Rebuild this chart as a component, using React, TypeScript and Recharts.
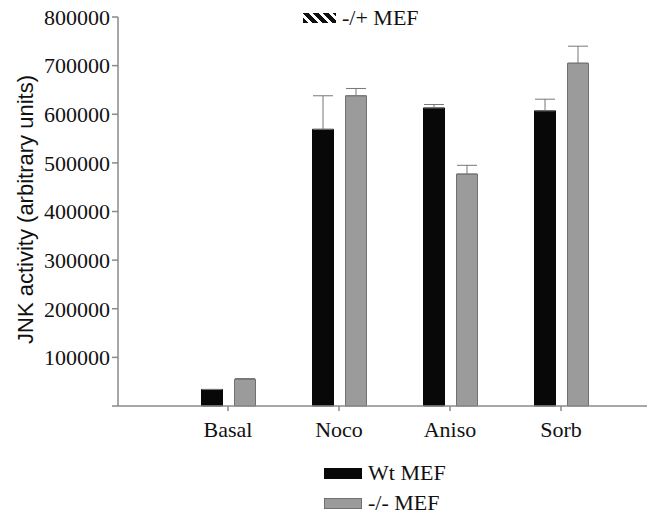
import { BarChart, Bar, XAxis, YAxis, ErrorBar, Legend } from 'recharts';

const categories = ['Basal', 'Noco', 'Aniso', 'Sorb'];
const wtValues = [34000, 569000, 613000, 607000];
const wtErrors = [0, 69000, 7000, 24000];
const koValues = [55000, 638000, 477000, 705000];
const koErrors = [1500, 15000, 18000, 35000];
const yTicks = [0, 100000, 200000, 300000, 400000, 500000, 600000, 700000, 800000];

const SERIF = '"Liberation Serif", "Times New Roman", serif';
const AXIS = '#8a8a8a';

const data = categories.map((name, i) => ({
  name,
  wt: wtValues[i],
  wtErr: [0, wtErrors[i]],
  ko: koValues[i],
  koErr: [0, koErrors[i]],
}));

function BottomLegend() {
  const rows = [
    { label: 'Wt MEF', fill: '#080808', stroke: '#080808' },
    { label: '-/- MEF', fill: '#9b9b9b', stroke: '#707070' },
  ];
  return (
    <div style={{ width: 647, height: 62, paddingTop: 2, boxSizing: 'border-box' }}>
      {rows.map((r) => (
        <div key={r.label} style={{ display: 'flex', alignItems: 'center', height: 30, paddingLeft: 316 }}>
          <span
            style={{
              display: 'inline-block',
              width: 36,
              height: 9,
              background: r.fill,
              border: `1px solid ${r.stroke}`,
              marginRight: 6,
            }}
          />
          <span style={{ fontFamily: SERIF, fontSize: 22, color: '#111', lineHeight: '30px' }}>{r.label}</span>
        </div>
      ))}
    </div>
  );
}

function YLabel({ viewBox }: any) {
  const cy = viewBox.y + viewBox.height / 2 - 2;
  const x = 25;
  return (
    <text
      x={x}
      y={cy}
      transform={`rotate(-90, ${x}, ${cy})`}
      textAnchor="middle"
      fontFamily='"Liberation Sans", Arial, sans-serif'
      fontSize={22}
      fill="#111"
    >
      JNK activity (arbitrary units)
    </text>
  );
}

export default function App() {
  return (
    <div style={{ position: 'relative', width: 647, height: 523, marginTop: -8 }}>
      <BarChart
        width={647}
        height={523}
        data={data}
        margin={{ top: 17, right: 0, bottom: 5, left: 0 }}
        barSize={21}
        barGap={12}
      >
        <XAxis
          dataKey="name"
          height={50}
          padding={{ left: 54.5, right: 38.5 }}
          stroke={AXIS}
          strokeWidth={1.5}
          tickSize={5}
          tickMargin={10}
          tick={{ fill: '#111', fontSize: 22, fontFamily: SERIF }}
        />
        <YAxis
          width={110}
          domain={[0, 800000]}
          ticks={yTicks}
          interval={0}
          stroke={AXIS}
          strokeWidth={1.5}
          tickSize={6}
          tickMargin={2}
          tickFormatter={(v: number) => (v === 0 ? '' : String(v))}
          tick={{ fill: '#111', fontSize: 22, fontFamily: SERIF }}
          label={<YLabel />}
        />
        <Legend verticalAlign="bottom" content={() => <BottomLegend />} />
        <Bar dataKey="wt" name="Wt MEF" fill="#080808" stroke="#080808" isAnimationActive={false}>
          <ErrorBar dataKey="wtErr" width={10} stroke="#777" strokeWidth={1} isAnimationActive={false} />
        </Bar>
        <Bar dataKey="ko" name="-/- MEF" fill="#9b9b9b" stroke="#707070" isAnimationActive={false}>
          <ErrorBar dataKey="koErr" width={10} stroke="#777" strokeWidth={1} isAnimationActive={false} />
        </Bar>
      </BarChart>
      <div style={{ position: 'absolute', left: 295, top: 8, height: 20, display: 'flex', alignItems: 'center' }}>
        <span
          style={{
            display: 'inline-block',
            width: 33,
            height: 10,
            marginRight: 6,
            background: 'repeating-linear-gradient(45deg, #111 0px, #111 4px, #fff 4px, #fff 7px)',
          }}
        />
        <span style={{ fontFamily: SERIF, fontSize: 22, color: '#111', lineHeight: '20px' }}>-/+ MEF</span>
      </div>
    </div>
  );
}
